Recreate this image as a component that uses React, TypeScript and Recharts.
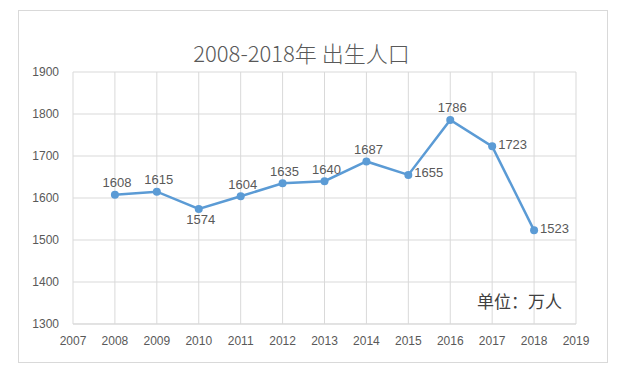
import { LineChart, Line, XAxis, YAxis, CartesianGrid, LabelList } from 'recharts';

const years = [2008, 2009, 2010, 2011, 2012, 2013, 2014, 2015, 2016, 2017, 2018];
const births = [1608, 1615, 1574, 1604, 1635, 1640, 1687, 1655, 1786, 1723, 1523];
const xTicks = [2007, 2008, 2009, 2010, 2011, 2012, 2013, 2014, 2015, 2016, 2017, 2018, 2019];
const yTicks = [1300, 1400, 1500, 1600, 1700, 1800, 1900];

const labelBelow = [2010];
const labelRight = [2015, 2017, 2018];

const data = years.map((year, i) => ({ year, value: births[i] }));

const textColor = '#595959';
const gridColor = '#d9d9d9';
const lineColor = '#5b9bd5';
const font = '"Liberation Sans", Arial, sans-serif';
const cjkFont = '"Noto Sans CJK SC", sans-serif';

function PointLabel(props: any) {
  const { x, y, value, index } = props;
  const year = years[index];
  let tx = x + 2;
  let ty = y - 12;
  let anchor: 'middle' | 'start' = 'middle';
  if (labelBelow.includes(year)) {
    ty = y + 11;
  } else if (labelRight.includes(year)) {
    tx = x + 6;
    ty = y - 2;
    anchor = 'start';
  }
  return (
    <text x={tx} y={ty} textAnchor={anchor} dominantBaseline="central" fill={textColor} fontSize={13} fontFamily={font}>
      {value}
    </text>
  );
}

export default function App() {
  return (
    <div style={{ position: 'relative', width: 604, height: 360, fontFamily: font }}>
      <div
        style={{
          position: 'absolute',
          left: 10,
          top: 2,
          width: 588,
          height: 351,
          border: `1px solid ${gridColor}`,
          background: '#fff',
        }}
      />
      <div
        style={{
          position: 'absolute',
          left: 0,
          width: 587,
          top: 28,
          textAlign: 'center',
          fontFamily: cjkFont,
          fontSize: 22,
          fontWeight: 300,
          color: textColor,
          whiteSpace: 'nowrap',
        }}
      >
        2008-2018年 出生人口
      </div>
      <LineChart
        width={604}
        height={360}
        data={data}
        margin={{ top: 64, right: 36, bottom: 14, left: 15 }}
        style={{ position: 'absolute', left: 0, top: 0 }}
      >
        <CartesianGrid stroke={gridColor} strokeWidth={1} />
        <XAxis
          dataKey="year"
          type="number"
          domain={[2007, 2019]}
          ticks={xTicks}
          interval={0}
          height={30}
          tickLine={false}
          tickSize={0}
          tickMargin={12}
          axisLine={{ stroke: gridColor }}
          tick={{ fill: textColor, fontSize: 12, fontFamily: font }}
        />
        <YAxis
          type="number"
          domain={[1300, 1900]}
          ticks={yTicks}
          interval={0}
          width={50}
          tickLine={false}
          tickSize={0}
          tickMargin={14}
          axisLine={false}
          tick={{ fill: textColor, fontSize: 12, fontFamily: font }}
        />
        <Line
          dataKey="value"
          stroke={lineColor}
          strokeWidth={2.5}
          dot={{ r: 4, fill: lineColor, stroke: lineColor, strokeWidth: 0 }}
          activeDot={false}
          isAnimationActive={false}
        >
          <LabelList dataKey="value" content={PointLabel} />
        </Line>
      </LineChart>
      <div
        style={{
          position: 'absolute',
          left: 469,
          top: 280,
          fontFamily: cjkFont,
          fontSize: 17,
          color: '#404040',
          whiteSpace: 'nowrap',
        }}
      >
        单位：万人
      </div>
    </div>
  );
}
